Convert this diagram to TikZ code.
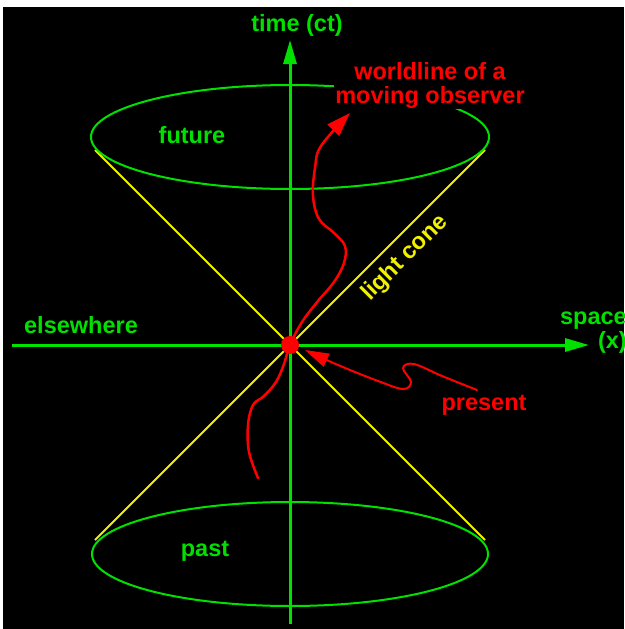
\documentclass[tikz,border=0pt]{standalone}
\usepackage{fontspec}
\setmainfont{Liberation Sans}
\usetikzlibrary{arrows.meta}

\definecolor{axisgreen}{RGB}{0,225,0}
\definecolor{coneyellow}{RGB}{240,240,0}
\definecolor{wlred}{RGB}{255,0,0}

\begin{document}
\begin{tikzpicture}[x=1pt, y=-1pt,
  axis/.style={axisgreen, line width=3pt, -{Triangle[length=24pt, width=13pt]}},
  rim/.style={axisgreen, line width=2pt},
  cone/.style={coneyellow, line width=2pt},
  wl/.style={wlred, line width=2.5pt, line cap=round},
  lbl/.style={font=\fontsize{23.5}{24}\selectfont\bfseries, inner sep=0pt}]
\useasboundingbox (0,0) rectangle (624,629);
\fill[white] (0,0) rectangle (624,629);
\fill[black] (3,7) rectangle (624,629);
\coordinate (O) at (290,345);
% light cone
\draw[cone] (95,150) -- (485,540);
\draw[cone] (485,150) -- (95,540);
\draw[rim] (290,137) ellipse [x radius=199, y radius=52];
\draw[rim] (290,554) ellipse [x radius=198, y radius=52];
% axes
\coordinate (tlow) at (290,624);
\coordinate (ttop) at (290,40);
\coordinate (xlow) at (12,345);
\coordinate (xtop) at (589,345);
\draw[axis] (tlow) -- (ttop);
\draw[axis] (xlow) -- (xtop);
% worldline
\draw[wl, -{Triangle[length=24pt, width=16pt]}] plot[smooth, tension=0.6] coordinates {
  (258,478) (249,452) (248,425) (253,405) (264,396) (276,382) (284,364) (290,345)
  (302,322) (318,301) (334,282) (344,263) (345,246) (334,233) (319,219) (313,196)
  (315,168) (321,146) (350,113)};
\fill[wlred] (O) circle (9);
% pointer to the present
\draw[wl, line width=2pt, -{Triangle[length=24pt, width=14pt]}] plot[smooth, tension=0.6] coordinates {
  (477,390) (442,376) (414,364) (403,368) (411,382) (403,389) (378,381) (338,365) (305,350)};
% labels
\node[lbl, axisgreen] (time) at (297,25) {time (ct)};
\node[lbl, axisgreen, anchor=east, align=right] (space) at (627,333) {space\\(x)};
\node[lbl, axisgreen] (elsewhere) at (81,325) {elsewhere};
\node[lbl, axisgreen] (future) at (192,135) {future};
\node[lbl, axisgreen] (past) at (205,551) {past};
\node[lbl, coneyellow, rotate=45] (lightcone) at (405,258) {light cone};
\node[lbl, wlred, align=center, fill=black, inner sep=1pt] (observer) at (430,85) {worldline of a\\moving observer};
\node[lbl, wlred] (present) at (484,405) {present};
\end{tikzpicture}
\end{document}
